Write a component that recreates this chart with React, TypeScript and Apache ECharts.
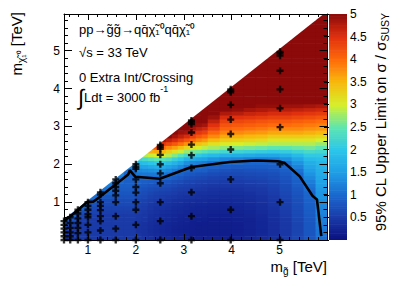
import React, { useEffect, useRef } from "react";
import * as echarts from "echarts";

// ---- limit map: columns in m(gluino) (left edges below, last entry = right edge), rows of 0.1 TeV in m(LSP) from 0 ----
const columnEdges = [0.5, 0.75, 1.0, 1.25, 1.5, 1.75, 2.0, 2.125, 2.25, 2.375, 2.5, 2.625, 2.75, 2.875, 3.0, 3.125, 3.25, 3.375, 3.5, 3.75, 4.0, 4.25, 4.5, 4.75, 5.0, 5.25, 5.5, 5.75, 6.0];
const lspStep = 0.1;
// kinematic edge of the map (m_LSP = m_gluino + offset)
const edgeX = [0.5, 6.0];
const edgeY = [0.55, 6.05];

// values (sigma limit / sigma SUSY) per column, bottom row first; rows above the last value up to the edge are saturated (>= 5)
const m0625 = [0.5, 0.5, 0.5, 0.55, 0.6, 0.75, 0.95, 1.05];
const m0875 = [0.5, 0.5, 0.5, 0.5, 0.5, 0.55, 0.6, 0.7, 0.95, 1.05, 1.1];
const m1125 = [0.5, 0.5, 0.5, 0.5, 0.5, 0.5, 0.55, 0.6, 0.65, 0.75, 0.9, 1.05, 1.15];
const m1375 = [0.5, 0.5, 0.5, 0.5, 0.5, 0.5, 0.5, 0.55, 0.6, 0.65, 0.7, 0.8, 0.95, 1.1, 1.2, 1.25];
const m1625 = [0.5, 0.5, 0.5, 0.5, 0.5, 0.5, 0.5, 0.55, 0.6, 0.65, 0.7, 0.75, 0.8, 0.85, 0.9, 1.0, 1.15, 1.3];
const m1875 = [0.5, 0.5, 0.5, 0.5, 0.5, 0.5, 0.5, 0.55, 0.6, 0.65, 0.7, 0.75, 0.8, 0.85, 0.9, 0.9, 0.95, 0.95, 1.05, 1.3, 1.6];
const m2063 = [0.47, 0.44, 0.42, 0.42, 0.43, 0.46, 0.49, 0.51, 0.54, 0.57, 0.62, 0.67, 0.72, 0.78, 0.85, 0.92, 0.99, 1.12, 1.3, 1.55, 1.85, 2.2];
const m2188 = [0.44, 0.41, 0.39, 0.39, 0.41, 0.44, 0.47, 0.49, 0.51, 0.54, 0.59, 0.64, 0.69, 0.74, 0.81, 0.89, 1.0, 1.13, 1.32, 1.58, 1.9, 2.3, 2.85];
const m2313 = [0.38, 0.35, 0.34, 0.34, 0.35, 0.38, 0.41, 0.43, 0.45, 0.48, 0.53, 0.58, 0.63, 0.7, 0.77, 0.87, 1.01, 1.14, 1.36, 1.65, 1.98, 2.4, 2.95, 3.55, 4.1];
const m2438 = [0.34, 0.32, 0.31, 0.31, 0.32, 0.34, 0.37, 0.39, 0.41, 0.44, 0.49, 0.54, 0.59, 0.66, 0.74, 0.84, 1.02, 1.15, 1.4, 1.7, 2.05, 2.5, 3.0, 3.6, 4.15, 4.6];
const m2563 = [0.31, 0.29, 0.28, 0.28, 0.29, 0.31, 0.33, 0.36, 0.39, 0.42, 0.46, 0.51, 0.56, 0.63, 0.71, 0.81, 0.99, 1.12, 1.37, 1.65, 2.0, 2.45, 2.95, 3.5, 4.0, 4.45, 4.85];
const m2688 = [0.29, 0.27, 0.26, 0.26, 0.27, 0.29, 0.31, 0.34, 0.37, 0.39, 0.44, 0.49, 0.54, 0.61, 0.69, 0.78, 0.95, 1.07, 1.3, 1.55, 1.9, 2.35, 2.85, 3.3, 3.8, 4.3, 4.7, 5.0];
const m2813 = [0.26, 0.24, 0.23, 0.23, 0.24, 0.26, 0.28, 0.31, 0.33, 0.36, 0.41, 0.46, 0.51, 0.57, 0.64, 0.72, 0.86, 0.98, 1.18, 1.45, 1.75, 2.15, 2.65, 3.15, 3.65, 4.15, 4.55, 4.85, 5.0];
const m2938 = [0.24, 0.22, 0.21, 0.21, 0.22, 0.24, 0.26, 0.29, 0.31, 0.34, 0.38, 0.43, 0.48, 0.53, 0.6, 0.68, 0.8, 0.93, 1.08, 1.3, 1.6, 2.0, 2.45, 2.95, 3.45, 3.95, 4.35, 4.7, 4.9, 5.0];
const m3063 = [0.23, 0.21, 0.2, 0.2, 0.21, 0.23, 0.25, 0.27, 0.29, 0.31, 0.36, 0.41, 0.46, 0.51, 0.56, 0.63, 0.72, 0.84, 0.97, 1.1, 1.35, 1.75, 2.25, 2.75, 3.25, 3.75, 4.2, 4.55, 4.85, 5.0];
const m3188 = [0.21, 0.19, 0.19, 0.19, 0.19, 0.21, 0.23, 0.25, 0.27, 0.29, 0.34, 0.39, 0.44, 0.49, 0.54, 0.61, 0.69, 0.8, 0.93, 1.03, 1.27, 1.65, 2.12, 2.6, 3.1, 3.55, 4.0, 4.35, 4.65, 4.85, 5.0];
const m3313 = [0.2, 0.18, 0.17, 0.17, 0.18, 0.2, 0.22, 0.24, 0.26, 0.28, 0.32, 0.37, 0.41, 0.46, 0.51, 0.58, 0.66, 0.76, 0.91, 1.0, 1.22, 1.58, 2.05, 2.55, 3.0, 3.42, 3.82, 4.17, 4.45, 4.7, 4.92, 5.0];
const m3438 = [0.2, 0.18, 0.17, 0.17, 0.18, 0.2, 0.22, 0.24, 0.26, 0.28, 0.32, 0.36, 0.4, 0.45, 0.5, 0.56, 0.64, 0.74, 0.89, 0.97, 1.18, 1.52, 1.95, 2.45, 2.9, 3.3, 3.7, 4.05, 4.35, 4.6, 4.85, 5.0];
const m3625 = [0.2, 0.18, 0.17, 0.17, 0.17, 0.18, 0.2, 0.22, 0.24, 0.26, 0.3, 0.34, 0.38, 0.42, 0.48, 0.54, 0.6, 0.68, 0.8, 0.92, 1.08, 1.4, 1.85, 2.35, 2.8, 3.15, 3.5, 3.8, 4.05, 4.3, 4.5, 4.7, 4.9, 5.0];
const m3875 = [0.2, 0.18, 0.17, 0.17, 0.17, 0.18, 0.2, 0.22, 0.24, 0.26, 0.3, 0.33, 0.37, 0.41, 0.46, 0.52, 0.58, 0.65, 0.75, 0.88, 1.02, 1.3, 1.75, 2.25, 2.7, 3.05, 3.35, 3.6, 3.85, 4.05, 4.2, 4.35, 4.55, 4.8, 5.0];
const m4125 = [0.22, 0.2, 0.19, 0.19, 0.19, 0.2, 0.22, 0.24, 0.26, 0.28, 0.31, 0.34, 0.38, 0.42, 0.47, 0.52, 0.58, 0.65, 0.73, 0.85, 1.0, 1.25, 1.7, 2.2, 2.65, 3.0, 3.3, 3.55, 3.8, 4.0, 4.15, 4.3, 4.5, 4.75, 4.95, 5.0];
const m4375 = [0.25, 0.23, 0.22, 0.22, 0.22, 0.23, 0.25, 0.27, 0.29, 0.31, 0.34, 0.37, 0.41, 0.45, 0.5, 0.55, 0.61, 0.67, 0.75, 0.86, 0.97, 1.2, 1.65, 2.15, 2.6, 2.95, 3.25, 3.5, 3.75, 3.95, 4.1, 4.25, 4.45, 4.65, 4.85, 5.0];
const m4625 = [0.3, 0.28, 0.27, 0.27, 0.27, 0.28, 0.3, 0.32, 0.34, 0.36, 0.39, 0.42, 0.45, 0.49, 0.53, 0.58, 0.63, 0.69, 0.77, 0.87, 0.96, 1.18, 1.6, 2.1, 2.55, 2.9, 3.2, 3.45, 3.7, 3.9, 4.05, 4.2, 4.4, 4.6, 4.8, 4.95, 5.0];
const m4875 = [0.38, 0.36, 0.35, 0.35, 0.35, 0.36, 0.38, 0.4, 0.42, 0.44, 0.46, 0.49, 0.52, 0.55, 0.59, 0.63, 0.68, 0.73, 0.8, 0.88, 0.97, 1.2, 1.6, 2.05, 2.5, 2.85, 3.1, 3.35, 3.6, 3.8, 4.0, 4.15, 4.35, 4.55, 4.75, 4.95, 5.0];
const m5125 = [0.5, 0.48, 0.47, 0.47, 0.47, 0.48, 0.5, 0.52, 0.54, 0.56, 0.58, 0.61, 0.64, 0.67, 0.7, 0.74, 0.78, 0.83, 0.9, 0.97, 1.1, 1.35, 1.7, 2.1, 2.5, 2.85, 3.1, 3.35, 3.6, 3.8, 4.0, 4.15, 4.35, 4.55, 4.75, 4.9, 5.0];
const m5375 = [0.65, 0.63, 0.62, 0.62, 0.62, 0.63, 0.65, 0.67, 0.69, 0.71, 0.73, 0.76, 0.79, 0.82, 0.86, 0.9, 0.95, 1.0, 1.1, 1.25, 1.4, 1.6, 1.85, 2.2, 2.55, 2.85, 3.1, 3.35, 3.6, 3.8, 3.95, 4.1, 4.3, 4.5, 4.7, 4.9, 5.0];
const m5625 = [0.82, 0.8, 0.8, 0.8, 0.8, 0.82, 0.84, 0.86, 0.88, 0.9, 0.93, 0.96, 0.98, 1.05, 1.12, 1.2, 1.3, 1.4, 1.5, 1.6, 1.7, 1.85, 2.05, 2.3, 2.6, 2.85, 3.1, 3.3, 3.55, 3.75, 3.9, 4.05, 4.25, 4.45, 4.65, 4.85, 5.0];
const m5875 = [1.05, 1.1, 1.12, 1.15, 1.18, 1.2, 1.22, 1.25, 1.28, 1.3, 1.35, 1.4, 1.42, 1.45, 1.5, 1.55, 1.6, 1.65, 1.7, 1.75, 1.8, 1.9, 2.05, 2.25, 2.5, 2.75, 3.0, 3.25, 3.5, 3.7, 3.85, 4.0, 4.2, 4.4, 4.6, 4.8, 5.0];
const limitColumns = [
  m0625, m0875, m1125, m1375, m1625, m1875,
  m2063, m2188, m2313, m2438, m2563, m2688, m2813, m2938, m3063, m3188, m3313, m3438,
  m3625, m3875, m4125, m4375, m4625, m4875, m5125, m5375, m5625, m5875,
];

// ---- simulated signal points (m_gluino -> list of m_LSP) ----
const pointMasses = [0.5, 0.63, 0.79, 1.0, 1.26, 1.58, 2.0, 2.51, 3.16, 3.98, 5.01];
const lsp050 = [0, 0.1, 0.2, 0.3, 0.4, 0.5];
const lsp063 = [0, 0.1, 0.2, 0.32, 0.45, 0.6];
const lsp079 = [0, 0.18, 0.32, 0.45, 0.57, 0.7, 0.8];
const lsp100 = [0, 0.2, 0.4, 0.6, 0.68, 0.8, 0.9, 1.0];
const lsp126 = [0, 0.25, 0.5, 0.63, 0.79, 0.9, 1.0, 1.2, 1.26];
const lsp158 = [0, 0.3, 0.63, 1.0, 1.18, 1.3, 1.4, 1.5, 1.6];
const lsp200 = [0, 0.4, 0.8, 1.0, 1.25, 1.4, 1.6, 1.88, 1.93, 2.0];
const lsp251 = [0, 0.5, 1.0, 1.5, 1.76, 2.0, 2.25, 2.41, 2.46, 2.51];
const lsp316 = [0, 0.63, 1.26, 1.9, 2.24, 2.52, 2.84, 3.06, 3.12, 3.16];
const lsp398 = [0, 0.8, 1.6, 2.39, 2.8, 3.18, 3.57, 3.9, 3.94, 3.98];
const lsp501 = [0, 1.0, 2.0, 2.98, 3.48, 3.98, 4.47, 4.87, 4.93, 4.97];
const pointLsp = [lsp050, lsp063, lsp079, lsp100, lsp126, lsp158, lsp200, lsp251, lsp316, lsp398, lsp501];

// ---- exclusion contour (sigma limit = sigma SUSY) ----
const contourX = [0.49, 0.63, 0.99, 1.11, 1.25, 1.84, 1.875, 1.99, 2.5, 3.16, 3.96, 4.51, 4.96, 5.1, 5.42, 5.69, 5.78, 5.87];
const contourY = [0.5, 0.62, 1.01, 1.01, 1.14, 1.73, 1.84, 1.67, 1.62, 1.93, 2.06, 2.1, 2.08, 2.04, 1.68, 1.16, 1.07, 0.1];

// ---- colour scale ----
const zMin = 0;
const zMax = 5;
const zBand = 0.05;
const limitPalette = ["#0b0f7e", "#1a3aa8", "#1a68cf", "#1f9ee6", "#2cc6ea", "#5ee6b0", "#d6ef2a", "#f8b80c", "#ff6a0a", "#e0300e", "#8c0a0a"];

const FONT = "'Liberation Sans', Arial, Helvetica, sans-serif";

function limitColor(v: number): string {
  const t = Math.min(1, Math.max(0, (v - zMin) / (zMax - zMin)));
  return (echarts as any).color.lerp(t, limitPalette);
}

function buildCells(): number[][] {
  const cells: number[][] = [];
  const slope = (edgeY[1] - edgeY[0]) / (edgeX[1] - edgeX[0]);
  limitColumns.forEach((col, i) => {
    const x0 = columnEdges[i];
    const x1 = columnEdges[i + 1];
    const edgeAtRight = edgeY[0] + (x1 - edgeX[0]) * slope;
    for (let k = 0; k * lspStep < edgeAtRight - 1e-9; k++) {
      const v = k < col.length ? col[k] : col[col.length - 1];
      cells.push([x0, k * lspStep, v, x1]);
    }
  });
  return cells;
}

function buildPoints(): number[][] {
  const pts: number[][] = [];
  pointMasses.forEach((x, i) => pointLsp[i].forEach((y) => pts.push([x, y])));
  return pts;
}

function buildBar(): number[][] {
  const out: number[][] = [];
  for (let v = zMin; v < zMax - 1e-9; v += zBand) out.push([0, +v.toFixed(3), +(v + zBand / 2).toFixed(3)]);
  return out;
}

export default function App() {
  const ref = useRef<HTMLDivElement>(null);
  useEffect(() => {
    if (!ref.current) return;
    const chart = echarts.init(ref.current, null, { renderer: "svg" });
    const black = "#000";
    const tickCommon = {
      z: 20,
      axisLine: { show: true, onZero: false, lineStyle: { color: black, width: 1 } },
      splitLine: { show: false },
    };
    const xMain = {
      type: "value", gridIndex: 0, min: 0.5, max: 6.0, splitNumber: 5,
      ...tickCommon,
      axisTick: { show: true, inside: true, length: 6, lineStyle: { color: black } },
      minorTick: { show: true, splitNumber: 5, length: 3, lineStyle: { color: black } },
    };
    const yMain = {
      type: "value", gridIndex: 0, min: 0, max: 5.97, interval: 1,
      ...tickCommon,
      axisTick: { show: true, inside: true, length: 8, lineStyle: { color: black } },
      minorTick: { show: true, splitNumber: 5, length: 4, lineStyle: { color: black } },
    };
    const option: any = {
      animation: false,
      backgroundColor: "#fff",
      grid: [
        { left: 64, top: 14, width: 263.5, height: 226, outerBoundsMode: "none", show: false },
        { left: 329, top: 14, width: 18, height: 226, outerBoundsMode: "none", show: false },
      ],
      xAxis: [
        {
          ...xMain, position: "bottom",
          axisLabel: { show: true, fontSize: 12, color: black, fontFamily: FONT, margin: 4, showMinLabel: false, showMaxLabel: false },
        },
        { ...xMain, position: "top", axisLabel: { show: false } },
        { type: "value", gridIndex: 1, min: 0, max: 1, show: false },
      ],
      yAxis: [
        {
          ...yMain, position: "left",
          axisLabel: {
            show: true, fontSize: 12, color: black, fontFamily: FONT, margin: 4, showMaxLabel: false,
            formatter: (v: number) => (v === 0 ? "" : String(v)),
          },
        },
        { ...yMain, position: "right", axisLabel: { show: false } },
        {
          type: "value", gridIndex: 1, min: zMin, max: zMax, interval: 0.5, position: "right", z: 20,
          axisLine: { show: false }, splitLine: { show: false },
          axisTick: { show: true, inside: true, length: 5, lineStyle: { color: black } },
          axisLabel: {
            show: true, fontSize: 12, color: black, fontFamily: FONT, margin: 3,
            formatter: (v: number) => (v === 0 ? "" : String(v)),
          },
        },
      ],
      series: [
        {
          type: "custom", xAxisIndex: 0, yAxisIndex: 0, clip: true, silent: true,
          data: buildCells(), encode: { x: 0, y: 1 },
          renderItem: (_p: any, api: any) => {
            const x0 = api.value(0), y0 = api.value(1), v = api.value(2), x1 = api.value(3);
            const a = api.coord([x0, y0 + lspStep]);
            const b = api.coord([x1, y0]);
            return {
              type: "rect",
              shape: { x: a[0], y: a[1], width: b[0] - a[0] + 0.6, height: b[1] - a[1] + 0.6 },
              style: { fill: limitColor(v) },
            };
          },
        },
        {
          type: "custom", xAxisIndex: 0, yAxisIndex: 0, clip: true, silent: true,
          data: [[edgeX[0], edgeY[0]]], encode: { x: 0, y: 1 },
          renderItem: (_p: any, api: any) => {
            const p1 = api.coord([edgeX[0], edgeY[0]]);
            const p2 = api.coord([edgeX[1], edgeY[1]]);
            const p3 = api.coord([edgeX[1], 8]);
            const p4 = api.coord([edgeX[0], 8]);
            return {
              type: "polygon",
              shape: { points: [[p1[0] - 2, p1[1] - 2 * ((p2[1] - p1[1]) / (p2[0] - p1[0]))], p2, [p2[0] + 2, p3[1]], [p4[0] - 2, p4[1]]] },
              style: { fill: "#fff" },
            };
          },
        },
        {
          type: "line", xAxisIndex: 0, yAxisIndex: 0, clip: true, silent: true,
          data: contourX.map((x, i) => [x, contourY[i]]),
          symbol: "none", lineStyle: { color: black, width: 2.6 },
        },
        {
          type: "scatter", xAxisIndex: 0, yAxisIndex: 0, clip: false, silent: true,
          data: buildPoints(),
          symbol: "path://M2,0H4V2H6V4H4V6H2V4H0V2H2Z", symbolSize: 7,
          itemStyle: { color: black },
        },
        {
          type: "custom", xAxisIndex: 2, yAxisIndex: 2, clip: true, silent: true,
          data: buildBar(), encode: { x: 0, y: 1 },
          renderItem: (_p: any, api: any) => {
            const v0 = api.value(1), vc = api.value(2);
            const a = api.coord([0, v0 + zBand]);
            const b = api.coord([1, v0]);
            return {
              type: "rect",
              shape: { x: a[0], y: a[1], width: b[0] - a[0], height: b[1] - a[1] + 0.6 },
              style: { fill: limitColor(vc) },
            };
          },
        },
      ],
      graphic: [
        {
          type: "text", x: 79, y: 29, silent: true, z: 100,
          style: { text: "pp\u2192g\u0303g\u0303\u2192qq\u0304\u03c7\u0303\u2081\u2070qq\u0304\u03c7\u0303\u2081\u2070", font: `13px ${FONT}`, fill: black, textVerticalAlign: "middle" },
        },
        {
          type: "text", x: 79, y: 52, silent: true, z: 100,
          style: { text: "\u221as = 33 TeV", font: `13px ${FONT}`, fill: black, textVerticalAlign: "middle" },
        },
        {
          type: "text", x: 79, y: 77, silent: true, z: 100,
          style: { text: "0 Extra Int/Crossing", font: `13px ${FONT}`, fill: black, textVerticalAlign: "middle" },
        },
        {
          type: "text", x: 78, y: 97, silent: true, z: 100,
          style: {
            text: "{i|\u222b}{t|Ldt = 3000 fb}{p|-1}", fill: black, textVerticalAlign: "middle",
            rich: {
              i: { fontSize: 22, lineHeight: 26, fontFamily: FONT, fill: black },
              t: { fontSize: 13, lineHeight: 26, fontFamily: FONT, fill: black },
              p: { fontSize: 9, lineHeight: 18, fontFamily: FONT, fill: black, verticalAlign: "top" },
            },
          },
        },
        {
          type: "text", x: 327, y: 266, silent: true, z: 100,
          style: {
            text: "{m|m}{s|g\u0303}{m| [TeV]}", textAlign: "right", textVerticalAlign: "middle", fill: black,
            rich: {
              m: { fontSize: 15, lineHeight: 20, fontFamily: FONT, fill: black },
              s: { fontSize: 10, lineHeight: 10, fontFamily: FONT, fill: black, verticalAlign: "bottom" },
            },
          },
        },
        {
          type: "text", x: 16, y: 12, rotation: Math.PI / 2, silent: true, z: 100,
          style: {
            text: "{m|m}{s|\u03c7\u0303\u2081\u2070}{m| [TeV]}", textAlign: "right", textVerticalAlign: "middle", fill: black,
            rich: {
              m: { fontSize: 15, lineHeight: 20, fontFamily: FONT, fill: black },
              s: { fontSize: 10, lineHeight: 10, fontFamily: FONT, fill: black, verticalAlign: "bottom" },
            },
          },
        },
        {
          type: "text", x: 380, y: 13, rotation: Math.PI / 2, silent: true, z: 100,
          style: {
            text: "{m|95% CL Upper Limit on \u03c3 / \u03c3}{s|SUSY}", textAlign: "right", textVerticalAlign: "middle", fill: black,
            rich: {
              m: { fontSize: 15, lineHeight: 20, fontFamily: FONT, fill: black },
              s: { fontSize: 10.5, lineHeight: 10, fontFamily: FONT, fill: black, verticalAlign: "bottom" },
            },
          },
        },
      ],
    };
    chart.setOption(option);
    return () => chart.dispose();
  }, []);
  return <div ref={ref} style={{ position: "fixed", left: 0, top: 0, width: 399, height: 286 }} />;
}
